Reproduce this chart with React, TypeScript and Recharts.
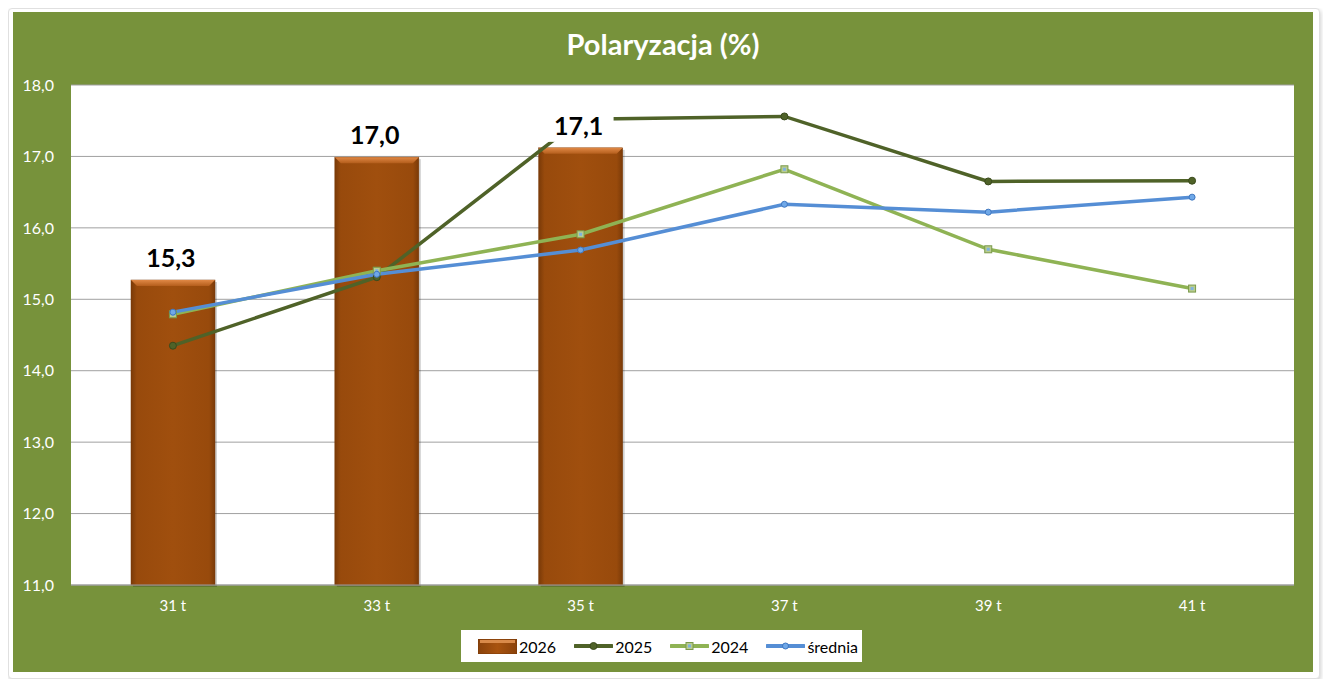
import React from 'react';
import {
  ComposedChart, Bar, Line, XAxis, YAxis, CartesianGrid, Legend,
} from 'recharts';

const categories = ['31 t', '33 t', '35 t', '37 t', '39 t', '41 t'];
const values2026 = [15.27, 16.99, 17.12, null, null, null];
const values2025 = [14.35, 15.31, 17.52, 17.56, 16.65, 16.66];
const values2024 = [14.79, 15.4, 15.91, 16.82, 15.7, 15.15];
const valuesAvg = [14.82, 15.35, 15.69, 16.33, 16.22, 16.43];
const yTicks = [11, 12, 13, 14, 15, 16, 17, 18];

const data = categories.map((name, i) => ({
  name,
  v2026: values2026[i],
  v2025: values2025[i],
  v2024: values2024[i],
  avg: valuesAvg[i],
}));

const GREEN_BG = '#77923B';
const C2025 = '#4F6228';
const C2024 = '#8FB354';
const CAVG = '#558ED5';
const FONT = 'Lato, "Open Sans", sans-serif';

const fmt = (v: number) => v.toFixed(1).replace('.', ',');

function BarShape(props: any) {
  const { x, y, width, height } = props;
  if (!height || height <= 0) return <g />;
  const bev = 6;
  return (
    <g>
      <rect x={x + 2} y={y + 2} width={width} height={height} fill="rgba(0,0,0,0.18)" />
      <rect x={x} y={y} width={width} height={height} fill="url(#barBody)" stroke="#7A3A08" strokeWidth={0.5} />
      <polygon
        points={`${x},${y} ${x + width},${y} ${x + width - bev},${y + bev} ${x + bev},${y + bev}`}
        fill="url(#barTop)"
      />
    </g>
  );
}

function BarLabel(props: any) {
  const { cx, cy, payload, index } = props;
  const v = payload?.v2026;
  if (v == null || cx == null || cy == null) return <g key={`lb-${index}`} />;
  return (
    <g key={`lb-${index}`}>
      <rect x={cx - 37} y={cy - 42} width={70} height={36} fill="#fff" />
      <text
        x={cx - 2} y={cy - 23} textAnchor="middle" dominantBaseline="central"
        fontFamily={FONT} fontWeight={700} fontSize={25} fill="#000"
      >
        {fmt(v)}
      </text>
    </g>
  );
}

function CircleDot(color: string, border: string, r: number) {
  return (props: any) => {
    const { cx, cy, index } = props;
    if (cx == null || cy == null) return <g key={`d-${index}`} />;
    return <circle key={`d-${index}`} cx={cx} cy={cy} r={r} fill={color} stroke={border} strokeWidth={1} />;
  };
}

function SquareDot(props: any) {
  const { cx, cy, index } = props;
  if (cx == null || cy == null) return <g key={`s-${index}`} />;
  return (
    <g key={`s-${index}`}>
      <rect x={cx - 3.5} y={cy - 3.5} width={7} height={7} fill="#B9CC8E" stroke="#7A9A4A" strokeWidth={1} />
      <rect x={cx - 1.5} y={cy - 1.5} width={3} height={3} fill="#7FB2E0" />
    </g>
  );
}

function LegendBox() {
  const item = (swatch: React.ReactNode, label: string, gap: number) => (
    <div style={{ display: 'flex', alignItems: 'center', marginRight: gap }}>
      {swatch}
      <span style={{ marginLeft: 2 }}>{label}</span>
    </div>
  );
  const lineSwatch = (color: string, marker: React.ReactNode) => (
    <svg width={39} height={14}>
      <line x1={1} y1={7} x2={38} y2={7} stroke={color} strokeWidth={4} strokeLinecap="round" />
      {marker}
    </svg>
  );
  return (
    <div style={{
      background: '#fff', height: 32, width: 401, display: 'flex', alignItems: 'center',
      paddingLeft: 17, boxSizing: 'border-box', fontFamily: FONT, fontSize: 16, color: '#000',
    }}>
      {item(
        <svg width={39} height={15}>
          <rect x={0} y={0} width={39} height={15} fill="url(#legBar)" stroke="#7A3A08" strokeWidth={1} />
          <rect x={2} y={1} width={35} height={3} fill="#D98A4A" />
        </svg>, '2026', 18)}
      {item(lineSwatch(C2025, <circle cx={19.5} cy={7} r={3.5} fill={C2025} stroke="#3A4A1C" />), '2025', 18)}
      {item(lineSwatch(C2024, <g><rect x={16} y={3.5} width={7} height={7} fill="#B9CC8E" stroke="#7A9A4A" /><rect x={18} y={5.5} width={3} height={3} fill="#7FB2E0" /></g>), '2024', 18)}
      {item(lineSwatch(CAVG, <circle cx={19.5} cy={7} r={3} fill="#6FA8E8" stroke="#3F77C0" />), 'średnia', 0)}
    </div>
  );
}

export default function App() {
  return (
    <div style={{
      position: 'relative', width: 1310, height: 669, background: '#fff',
      border: '1px solid #E0E0E0', borderRadius: 4, boxShadow: '1px 2px 4px rgba(0,0,0,0.18)',
    }}>
      <svg width={0} height={0} style={{ position: 'absolute' }}>
        <defs>
          <linearGradient id="legBar" x1="0" y1="0" x2="1" y2="0">
            <stop offset="0" stopColor="#8A420B" />
            <stop offset="0.5" stopColor="#A8530F" />
            <stop offset="1" stopColor="#8A420B" />
          </linearGradient>
        </defs>
      </svg>
      <div style={{ position: 'absolute', left: 4, top: 3, width: 1300, height: 660, background: GREEN_BG }}>
        <div style={{
          position: 'absolute', top: 14, left: 0, width: 1300, textAlign: 'center',
          fontFamily: FONT, fontWeight: 700, fontSize: 29, color: '#fff',
        }}>
          Polaryzacja (%)
        </div>
        <ComposedChart
          width={1300} height={660} data={data}
          margin={{ top: 73, right: 19, left: 0, bottom: 57 }}
        >
          <defs>
            <linearGradient id="barBody" x1="0" y1="0" x2="1" y2="0">
              <stop offset="0" stopColor="#7A3A08" />
              <stop offset="0.07" stopColor="#984A0C" />
              <stop offset="0.5" stopColor="#A04F0E" />
              <stop offset="0.93" stopColor="#984A0C" />
              <stop offset="1" stopColor="#7A3A08" />
            </linearGradient>
            <linearGradient id="barTop" x1="0" y1="0" x2="0" y2="1">
              <stop offset="0" stopColor="#E08845" />
              <stop offset="1" stopColor="#B45E1C" />
            </linearGradient>
          </defs>
          <CartesianGrid vertical={false} stroke="#A0A0A0" fill="#fff" />
          <XAxis
            dataKey="name" height={30} tickLine={false}
            axisLine={{ stroke: '#A0A0A0' }} tickMargin={9}
            tick={{ fill: '#fff', fontSize: 15, fontFamily: FONT }}
          />
          <YAxis
            width={58} domain={[11, 18]} ticks={yTicks} tickFormatter={fmt}
            axisLine={false} tickLine={false} tickMargin={11} interval={0}
            tick={{ fill: '#fff', fontSize: 16, fontFamily: FONT }}
          />
          <Bar dataKey="v2026" name="2026" barSize={84} shape={<BarShape />} isAnimationActive={false} />
          <Line
            dataKey="v2025" name="2025" stroke={C2025} strokeWidth={3.5}
            dot={CircleDot(C2025, '#3A4A1C', 3.5)} activeDot={false} isAnimationActive={false}
          />
          <Line
            dataKey="v2024" name="2024" stroke={C2024} strokeWidth={3.5}
            dot={SquareDot} activeDot={false} isAnimationActive={false}
          />
          <Line
            dataKey="avg" name="średnia" stroke={CAVG} strokeWidth={3.5}
            dot={CircleDot('#6FA8E8', '#3F77C0', 3)} activeDot={false} isAnimationActive={false}
          />
          <Line
            dataKey="v2026" stroke="none" legendType="none"
            dot={BarLabel} activeDot={false} isAnimationActive={false}
          />
          <Legend
            verticalAlign="middle" align="center" layout="horizontal"
            wrapperStyle={{ top: 618, left: 448, width: 401, height: 32 }}
            content={() => <LegendBox />}
          />
        </ComposedChart>
      </div>
    </div>
  );
}
